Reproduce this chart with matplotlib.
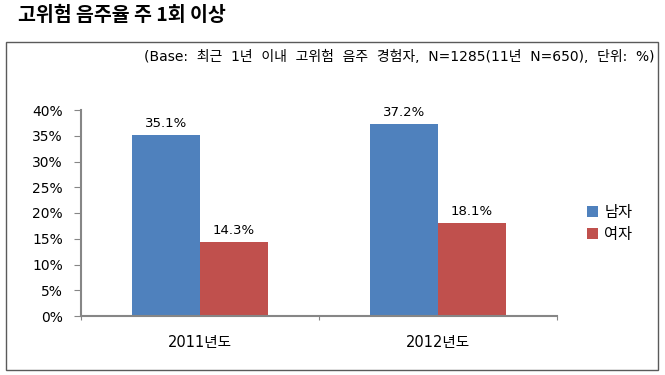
import matplotlib.pyplot as plt
import matplotlib.patches as mpatches
import numpy as np

plt.rcParams['font.family'] = ['Noto Sans CJK KR', 'DejaVu Sans']
latin_first = ['DejaVu Sans', 'Noto Sans CJK KR']

# data
years = ['2011년도', '2012년도']
male = [35.1, 37.2]
female = [14.3, 18.1]
series_names = ['남자', '여자']
yticks = [0, 5, 10, 15, 20, 25, 30, 35, 40]

blue = '#4F81BD'
red = '#C0504D'
axis_col = '#868686'

fig = plt.figure(figsize=(6.65, 3.75), dpi=100)

# outer frame box
frame = mpatches.Rectangle((6/665, 1 - 370/375), 652/665, 328/375,
                           transform=fig.transFigure, fill=False,
                           edgecolor='#5a5a5a', linewidth=1.0)
fig.patches.append(frame)

fig.text(18/665, 1 - 15/375, '고위험 음주율 주 1회 이상', fontsize=14,
         fontweight='bold', ha='left', va='center')
fig.text(655/665, 1 - 57/375,
         '(Base:  최근  1년  이내  고위험  음주  경험자,  N=1285(11년  N=650),  단위:  %)',
         fontsize=10, ha='right', va='center', family=latin_first)

ax = fig.add_axes([81/665, 1 - 316/375, 476/665, 206/375])

x = np.arange(len(years))
w = 0.285
b1 = ax.bar(x - w/2, male, w, color=blue, label=series_names[0])
b2 = ax.bar(x + w/2, female, w, color=red, label=series_names[1])

for bars, vals in ((b1, male), (b2, female)):
    for rect, v in zip(bars, vals):
        ax.text(rect.get_x() + rect.get_width()/2, v + 1.0, f'{v:.1f}%',
                ha='center', va='bottom', fontsize=9.5, family=latin_first)

ax.set_xlim(-0.5, 1.5)
ax.set_ylim(0, 40)
ax.set_yticks(yticks)
ax.set_yticklabels([f'{t}%' for t in yticks], family=latin_first, fontsize=10)

ax.set_xticks([-0.5, 0.5, 1.5])
ax.set_xticklabels([])
ax.set_xticks(x, minor=True)
ax.set_xticklabels(years, minor=True, fontsize=10.5, family=latin_first)
ax.tick_params(axis='x', which='minor', length=0, pad=14)
ax.tick_params(axis='x', which='major', length=3, color=axis_col, direction='out')
ax.tick_params(axis='y', length=5, color=axis_col, direction='out', pad=8)

for s in ('top', 'right'):
    ax.spines[s].set_visible(False)
for s in ('left', 'bottom'):
    ax.spines[s].set_color(axis_col)
    ax.spines[s].set_linewidth(1.5)

ax.legend(loc='center left', bbox_to_anchor=(1.035, 0.45), frameon=False,
          fontsize=11, handlelength=0.7, handleheight=0.7, handletextpad=0.4,
          labelspacing=0.3)

fig.savefig('out.png', dpi=100)
